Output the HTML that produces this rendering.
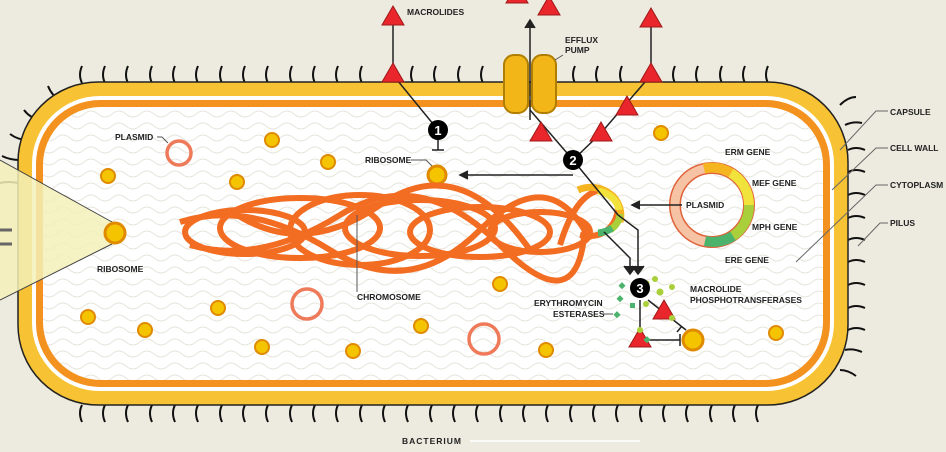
<!DOCTYPE html>
<html><head><meta charset="utf-8"><style>
body{margin:0;background:#edebe0}
svg{display:block}
text{font-family:"Liberation Sans",sans-serif;font-weight:bold;font-size:8.5px;fill:#222}
</style></head><body>
<svg width="946" height="452" viewBox="0 0 946 452" xmlns="http://www.w3.org/2000/svg">
<defs>
<pattern id="wave" width="28" height="12" patternUnits="userSpaceOnUse">
<path d="M0 6 Q7 0 14 6 T28 6" fill="none" stroke="#e6e3da" stroke-width="1"/>
</pattern>
<g id="tri"><path d="M0 -12 L11 7 L-11 7 Z" fill="#e8262b" stroke="#a01818" stroke-width="1"/></g>
<g id="rib"><circle r="7" fill="#f5c400" stroke="#e08a00" stroke-width="2"/></g>
</defs>
<rect width="946" height="452" fill="#edebe0"/>
<!-- pili -->
<g stroke="#111" stroke-width="2.2" fill="none">
<path id="p" d="M0 0 q-4 -8 2 -16"/>
</g>
<g stroke="#111" stroke-width="2.2" fill="none">
<script></script>
</g>
<g stroke="#111" stroke-width="2" fill="none" id="pil">
<path d="M82 83 q-4 -8 0 -17M105 83 q-4 -8 0 -17M128 83 q-4 -8 0 -17M152 83 q-4 -8 0 -17M175 83 q-4 -8 0 -17M198 83 q-4 -8 0 -17M222 83 q-4 -8 0 -17M245 83 q-4 -8 0 -17M268 83 q-4 -8 0 -17M292 83 q-4 -8 0 -17M315 83 q-4 -8 0 -17M338 83 q-4 -8 0 -17M362 83 q-4 -8 0 -17M413 83 q-4 -8 0 -17M436 83 q-4 -8 0 -17M460 83 q-4 -8 0 -17M483 83 q-4 -8 0 -17M575 83 q-4 -8 0 -17M598 83 q-4 -8 0 -17M622 83 q-4 -8 0 -17M675 83 q-4 -8 0 -17M698 83 q-4 -8 0 -17M722 83 q-4 -8 0 -17M745 83 q-4 -8 0 -17M768 83 q-4 -8 0 -17"/>
<path d="M82 405 q-4 8 0 17M105 405 q-4 8 0 17M128 405 q-4 8 0 17M152 405 q-4 8 0 17M175 405 q-4 8 0 17M198 405 q-4 8 0 17M222 405 q-4 8 0 17M245 405 q-4 8 0 17M268 405 q-4 8 0 17M292 405 q-4 8 0 17M315 405 q-4 8 0 17M338 405 q-4 8 0 17M362 405 q-4 8 0 17M385 405 q-4 8 0 17M408 405 q-4 8 0 17M432 405 q-4 8 0 17M455 405 q-4 8 0 17M478 405 q-4 8 0 17M502 405 q-4 8 0 17M525 405 q-4 8 0 17M548 405 q-4 8 0 17M572 405 q-4 8 0 17M595 405 q-4 8 0 17M618 405 q-4 8 0 17M642 405 q-4 8 0 17M665 405 q-4 8 0 17M688 405 q-4 8 0 17M712 405 q-4 8 0 17M735 405 q-4 8 0 17M758 405 q-4 8 0 17"/>
<path d="M848 150 q8 -4 17 0M848 172 q8 -4 17 0M848 195 q8 -4 17 0M848 218 q8 -4 17 0M848 240 q8 -4 17 0M848 262 q8 -4 17 0M848 285 q8 -4 17 0M848 308 q8 -4 17 0M848 330 q8 -4 17 0M840 105 q8 -8 16 -8M845 125 q8 -4 17 -2M840 370 q8 0 16 6M845 350 q8 -2 17 2"/>
<path d="M60 100 q-8 -4 -12 -14M40 120 q-10 -2 -16 -10M28 140 q-10 0 -18 -6M20 160 q-10 0 -18 -4M18 183 q-10 -2 -18 0"/>
</g>
<!-- cell -->
<rect x="18" y="82" width="830" height="323" rx="80" fill="#f7c233" stroke="#222" stroke-width="1.5"/>
<rect x="32" y="96" width="802" height="295" rx="68" fill="#fff"/>
<rect x="36" y="100" width="794" height="287" rx="64" fill="#f3921f"/>
<rect x="43" y="107" width="780" height="273" rx="58" fill="#fff"/>
<rect x="43" y="107" width="780" height="273" rx="58" fill="url(#wave)"/>
<!-- left cone -->
<path d="M0 160 L112 222 L112 244 L0 300 Z" fill="#f3f0b8" opacity="0.85"/>
<path d="M0 160 L112 222 M0 300 L112 244" stroke="#444" stroke-width="1"/>
<path d="M0 230 h12 M0 244 h12" stroke="#666" stroke-width="3"/>
<circle cx="115" cy="233" r="10" fill="#f5c400" stroke="#e08a00" stroke-width="3"/>
<!-- ribosomes -->
<g>
<use href="#rib" x="108" y="176"/><use href="#rib" x="272" y="140"/><use href="#rib" x="237" y="182"/><use href="#rib" x="328" y="162"/>
<use href="#rib" x="661" y="133"/><use href="#rib" x="500" y="284"/><use href="#rib" x="218" y="308"/><use href="#rib" x="145" y="330"/>
<use href="#rib" x="88" y="317"/><use href="#rib" x="262" y="347"/><use href="#rib" x="353" y="351"/><use href="#rib" x="421" y="326"/>
<use href="#rib" x="546" y="350"/><use href="#rib" x="776" y="333"/>
</g>
<circle cx="437" cy="175" r="9" fill="#f5c400" stroke="#e08a00" stroke-width="3"/>
<circle cx="693" cy="340" r="10" fill="#f5c400" stroke="#e08a00" stroke-width="3"/>
<!-- small plasmids -->
<circle cx="179" cy="153" r="12" fill="none" stroke="#ee7a5a" stroke-width="3.5"/>
<circle cx="307" cy="304" r="15" fill="none" stroke="#ee7a5a" stroke-width="3.5"/>
<circle cx="484" cy="339" r="15" fill="none" stroke="#ee7a5a" stroke-width="3.5"/>
<!-- chromosome -->
<g fill="none" stroke="#f26c22" stroke-width="6">
<ellipse cx="245" cy="232" rx="60" ry="22"/>
<ellipse cx="300" cy="228" rx="80" ry="30"/>
<ellipse cx="360" cy="230" rx="70" ry="35"/>
<ellipse cx="420" cy="228" rx="75" ry="28"/>
<ellipse cx="480" cy="232" rx="70" ry="25"/>
<ellipse cx="540" cy="232" rx="50" ry="20"/>
<path d="M180 222 Q250 200 330 250 T480 230 T590 240"/>
<path d="M190 245 Q260 265 340 215 T500 245 T585 225"/>
<path d="M230 210 Q300 260 380 205 T530 250"/>
<path d="M560 245 Q575 195 600 190 Q625 195 615 220 Q605 240 580 235"/>
</g>
<path d="M578 190 A30 28 0 0 1 620 222" fill="none" stroke="#f5b521" stroke-width="7"/>
<path d="M598 191 A26 22 0 0 1 619 210" fill="none" stroke="#f1e33b" stroke-width="7"/>
<path d="M620 214 A26 22 0 0 1 610 230" fill="none" stroke="#a9cf3a" stroke-width="7"/>
<path d="M612 228 A26 22 0 0 1 598 233" fill="none" stroke="#4bb36c" stroke-width="7"/>
<!-- big plasmid -->
<circle cx="712" cy="205" r="37" fill="none" stroke="#e0633a" stroke-width="12"/>
<circle cx="712" cy="205" r="37" fill="none" stroke="#f6c3a5" stroke-width="9"/>
<path d="M704 168.5 A37 37 0 0 1 731 173" fill="none" stroke="#f5b521" stroke-width="10"/>
<path d="M731 173 A37 37 0 0 1 749 205" fill="none" stroke="#f1e33b" stroke-width="10"/>
<path d="M749 205 A37 37 0 0 1 733 236" fill="none" stroke="#a9cf3a" stroke-width="10"/>
<path d="M733 236 A37 37 0 0 1 705 241" fill="none" stroke="#4bb36c" stroke-width="10"/>
<!-- efflux pump -->
<rect x="504" y="55" width="24" height="58" rx="10" fill="#f2b619" stroke="#b07e00" stroke-width="2"/>
<rect x="532" y="55" width="24" height="58" rx="10" fill="#f2b619" stroke="#b07e00" stroke-width="2"/>
<!-- lines -->
<g stroke="#222" stroke-width="1.5" fill="none">
<path d="M393 18 V75 L438 130 V150 M432 150 h12"/>
<path d="M530 120 V22"/><path d="M525 28 l5 -8 5 8" fill="#222"/>
<path d="M530 110 L573 160 L601 133 L651 75 V20"/>
<path d="M573 160 L618 215 L638 230 V272"/>
<path d="M573 175 L460 175"/><path d="M468 171 l-8 4 8 4" fill="#222"/>
<path d="M682 205 H632"/><path d="M640 201 l-8 4 8 4" fill="#222"/>
<path d="M604 232 L630 258 V272"/>
<path d="M624 266 l6 8 6 -8 M632 266 l6 8 6 -8" fill="#222"/>
<path d="M640 300 V340 H680 M680 334 V346 M648 300 L686 330 M682 326 l-5 6"/>
</g>
<!-- triangles -->
<use href="#tri" x="393" y="18"/><use href="#tri" x="393" y="75"/><use href="#tri" x="517" y="-4"/><use href="#tri" x="549" y="8"/>
<use href="#tri" x="651" y="20"/><use href="#tri" x="651" y="75"/><use href="#tri" x="627" y="108"/><use href="#tri" x="541" y="134"/><use href="#tri" x="601" y="134"/>
<use href="#tri" x="664" y="312"/><use href="#tri" x="640" y="340"/>
<!-- enzymes -->
<g fill="#a9cf3a"><circle cx="655" cy="279" r="3"/><circle cx="672" cy="287" r="3"/><circle cx="660" cy="292" r="3.5"/><circle cx="646" cy="304" r="3"/><circle cx="672" cy="318" r="3"/><circle cx="640" cy="330" r="3"/><circle cx="647" cy="283" r="2.5"/></g>
<g fill="#4bb36c"><rect x="620" y="283" width="5" height="5" transform="rotate(45 622 285)"/><rect x="618" y="296" width="5" height="5" transform="rotate(45 620 298)"/><rect x="630" y="303" width="5" height="5"/><rect x="615" y="312" width="5" height="5" transform="rotate(45 617 314)"/><rect x="645" y="337" width="5" height="5" transform="rotate(45 647 339)"/></g>
<!-- numbers -->
<g><circle cx="438" cy="130" r="10" fill="#000"/><text x="438" y="135" text-anchor="middle" style="fill:#fff;font-size:13px">1</text>
<circle cx="573" cy="160" r="10" fill="#000"/><text x="573" y="165" text-anchor="middle" style="fill:#fff;font-size:13px">2</text>
<circle cx="640" cy="288" r="10" fill="#000"/><text x="640" y="293" text-anchor="middle" style="fill:#fff;font-size:13px">3</text></g>
<!-- labels -->
<text x="407" y="15">MACROLIDES</text>
<text x="565" y="43">EFFLUX</text><text x="565" y="53">PUMP</text>
<path d="M555 60 L563 55" stroke="#555"/>
<text x="115" y="140">PLASMID</text><path d="M157 137 h5 l6 6" stroke="#555" fill="none"/>
<text x="365" y="163">RIBOSOME</text><path d="M411 160 h15 l6 6" stroke="#555" fill="none"/>
<text x="97" y="272">RIBOSOME</text>
<text x="357" y="300">CHROMOSOME</text><path d="M357 292 V215" stroke="#555"/>
<text x="686" y="208">PLASMID</text>
<text x="725" y="155">ERM GENE</text><text x="752" y="186">MEF GENE</text><text x="752" y="230">MPH GENE</text><text x="725" y="263">ERE GENE</text>
<text x="690" y="292">MACROLIDE</text><text x="690" y="303">PHOSPHOTRANSFERASES</text>
<text x="534" y="306">ERYTHROMYCIN</text><text x="553" y="317">ESTERASES</text><path d="M603 314 h10" stroke="#555"/>
<text x="890" y="115">CAPSULE</text><text x="890" y="151">CELL WALL</text><text x="890" y="188">CYTOPLASM</text><text x="890" y="226">PILUS</text>
<g stroke="#666" fill="none" stroke-width="1"><path d="M888 111 h-12 L840 150"/><path d="M888 148 h-12 L832 190"/><path d="M888 185 h-12 L796 262"/><path d="M888 223 h-8 L858 246"/></g>
<text x="402" y="444" style="letter-spacing:1px">BACTERIUM</text>
<path d="M470 441 H640" stroke="#fff" stroke-width="1.5"/>
</svg>
</body></html>
